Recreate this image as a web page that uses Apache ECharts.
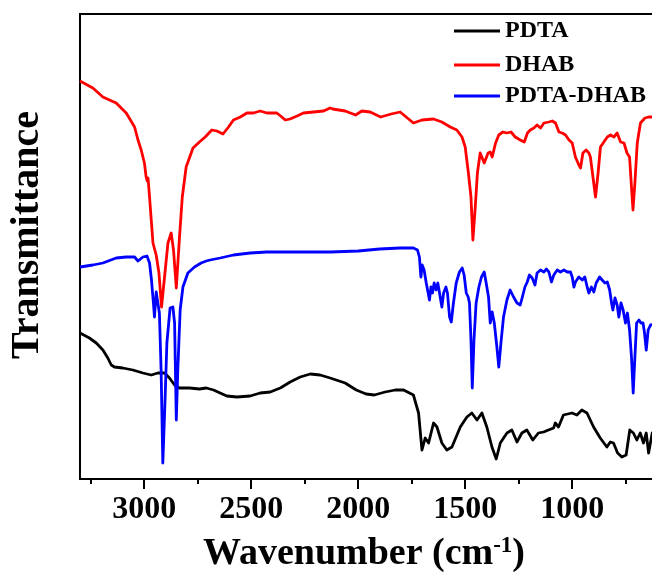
<!DOCTYPE html>
<html>
<head>
<meta charset="utf-8">
<title>FTIR</title>
<script src="https://cdn.jsdelivr.net/npm/echarts@6/dist/echarts.min.js"></script>
<style>
  html, body { margin: 0; padding: 0; background: #fff; }
  #ftir { width: 652px; height: 578px; }
</style>
</head>
<body>
<div id="ftir"></div>
<script>
// spectra: [wavenumber cm-1, transmittance (a.u., offset)]
const PDTA = [
  [3300,146],[3256,141],[3224,136],[3193,129],[3170,121],[3154,114],[3139,112],[3100,111],
  [3053,109],[3006,106],[2967,104],[2936,106],[2905,106],[2882,101],[2858,94],[2835,91],
  [2788,91],[2742,90],[2710,91],[2676,89],[2645,86],[2614,83],[2567,82],[2505,83],
  [2458,86],[2411,87],[2364,91],[2318,97],[2271,102],[2224,105],[2178,104],[2131,101],
  [2061,96],[2009,89],[1963,85],[1925,84],[1874,87],[1827,89],[1788,89],[1742,84],
  [1718,66],[1702,29],[1687,41],[1671,36],[1648,56],[1632,52],[1609,36],[1586,29],
  [1562,32],[1523,52],[1492,62],[1469,66],[1445,59],[1422,66],[1399,52],[1375,32],
  [1355,20],[1336,36],[1305,46],[1282,49],[1258,37],[1235,46],[1212,49],[1184,39],
  [1158,46],[1134,47],[1111,49],[1087,51],[1079,56],[1064,52],[1041,64],[1001,66],
  [978,64],[955,69],[931,66],[900,52],[869,41],[838,32],[822,37],[807,36],[788,26],
  [768,22],[748,24],[731,49],[714,46],[698,39],[682,46],[667,36],[654,46],[643,26],
  [626,46],[550,42],[450,42]
];

const DHAB = [
  [3300,398],[3240,391],[3193,382],[3131,376],[3084,366],[3045,352],[3029,339],[3014,329],
  [2999,316],[2991,302],[2986,298],[2982,301],[2975,282],[2967,259],[2959,236],[2944,224],
  [2931,206],[2919,172],[2905,202],[2889,236],[2874,246],[2863,229],[2850,191],[2835,242],
  [2822,282],[2804,312],[2772,331],[2742,337],[2715,342],[2684,349],[2660,348],[2632,345],
  [2606,352],[2583,359],[2551,362],[2520,366],[2489,366],[2458,368],[2427,366],[2380,366],
  [2357,362],[2341,359],[2318,360],[2286,363],[2256,366],[2209,367],[2162,368],[2131,371],
  [2119,370],[2061,368],[2012,364],[1983,368],[1944,367],[1895,362],[1846,365],[1804,367],
  [1742,356],[1702,359],[1648,360],[1609,357],[1570,352],[1539,349],[1515,342],[1500,332],
  [1485,306],[1473,282],[1464,239],[1453,272],[1443,306],[1430,326],[1421,328],[1411,316],
  [1402,317],[1393,326],[1383,327],[1374,322],[1358,336],[1343,344],[1324,347],[1305,346],
  [1286,347],[1266,342],[1243,339],[1224,337],[1209,346],[1196,349],[1179,351],[1164,354],
  [1148,351],[1132,356],[1109,357],[1093,358],[1078,356],[1062,347],[1047,346],[1031,344],
  [1015,339],[1000,336],[985,322],[969,314],[961,311],[950,326],[935,329],[922,326],
  [915,322],[903,302],[891,282],[879,306],[868,332],[852,337],[836,342],[821,344],
  [805,342],[790,346],[774,337],[758,336],[744,326],[732,322],[723,292],[716,269],
  [707,296],[696,336],[681,356],[660,361],[642,362],[626,362],[550,363],[450,363]
];

const PDTA_DHAB = [
  [3300,212],[3240,214],[3193,216],[3131,221],[3084,222],[3045,222],[3029,218],[3006,222],
  [2987,223],[2975,216],[2966,199],[2957,176],[2952,162],[2944,187],[2938,186],[2929,166],
  [2921,109],[2913,16],[2903,76],[2894,136],[2879,171],[2866,172],[2858,156],[2850,59],
  [2843,109],[2832,169],[2819,192],[2796,206],[2765,212],[2734,216],[2710,218],[2692,219],
  [2645,221],[2583,224],[2505,226],[2427,227],[2333,227],[2240,227],[2131,227],[2000,228],
  [1900,230],[1804,231],[1742,231],[1723,229],[1714,222],[1707,202],[1701,214],[1692,209],
  [1682,196],[1673,197],[1667,179],[1660,192],[1653,186],[1645,196],[1636,189],[1628,196],
  [1620,186],[1609,172],[1601,186],[1590,192],[1583,186],[1573,162],[1565,157],[1555,176],
  [1542,196],[1527,207],[1514,211],[1505,204],[1495,186],[1486,182],[1480,176],[1473,139],
  [1467,91],[1459,139],[1449,176],[1436,192],[1424,202],[1411,207],[1402,196],[1391,182],
  [1383,156],[1374,167],[1364,156],[1352,132],[1343,112],[1333,136],[1321,162],[1305,179],
  [1290,189],[1274,182],[1258,176],[1243,174],[1234,181],[1221,192],[1210,197],[1200,204],
  [1187,201],[1174,194],[1164,206],[1148,209],[1132,207],[1121,210],[1109,207],[1097,197],
  [1086,204],[1070,209],[1055,207],[1039,209],[1023,207],[1008,207],[1000,202],[992,192],
  [985,197],[969,202],[953,199],[941,202],[930,192],[922,186],[910,192],[899,187],
  [888,196],[872,202],[860,199],[847,196],[836,197],[825,189],[816,176],[810,169],
  [800,181],[790,174],[782,162],[772,176],[762,169],[751,156],[742,166],[732,149],
  [723,122],[715,86],[707,122],[699,156],[688,159],[679,156],[669,156],[662,146],
  [654,129],[645,149],[634,154],[626,156],[550,157],[450,157]
];

const SERIES_NAMES = ['PDTA', 'DHAB', 'PDTA-DHAB'];
const SERIES_COLORS = ['#000000', '#ff0000', '#0000ff'];
const MAJOR_TICKS = [1000, 1500, 2000, 2500, 3000];
const MINOR_TICKS = [750, 1250, 1750, 2250, 2750, 3250];

(function () {
  const FONT = 'Liberation Serif';
  const chart = echarts.init(document.getElementById('ftir'), null, { renderer: 'canvas' });

  // one legend block per entry, spacing in the figure is uneven
  const legendTops = [19, 53, 84];
  const legends = SERIES_NAMES.map((name, i) => ({
    data: [name],
    left: 454,
    top: legendTops[i],
    padding: 0,
    icon: 'rect',
    itemWidth: 46,
    itemHeight: 3,
    itemGap: 0,
    textStyle: { fontFamily: FONT, fontWeight: 'bold', fontSize: 24, color: '#000' }
  }));

  const makeSeries = (name, data, color) => ({
    type: 'line',
    name,
    data,
    xAxisIndex: 0,
    showSymbol: false,
    symbol: 'none',
    animation: false,
    lineStyle: { color, width: 2.8, join: 'round' },
    itemStyle: { color }
  });

  const option = {
    backgroundColor: '#fff',
    animation: false,
    legend: legends,
    // plot box runs past the right edge of the picture (spectrum goes to 400 cm-1)
    grid: {
      left: 80, top: 14, width: 620.6, height: 465,
      outerBoundsMode: 'none', containLabel: false,
      show: true, borderColor: '#000', borderWidth: 2, backgroundColor: 'transparent'
    },
    xAxis: [
      {
        type: 'value', inverse: true, min: 400, max: 3300,
        axisLine: { show: true, lineStyle: { color: '#000', width: 2 } },
        axisTick: { show: true, customValues: MAJOR_TICKS, length: 10, lineStyle: { color: '#000', width: 2 } },
        axisLabel: {
          customValues: MAJOR_TICKS, margin: 15,
          formatter: v => String(v),
          fontFamily: FONT, fontWeight: 'bold', fontSize: 32, color: '#000'
        },
        splitLine: { show: false }
      },
      {
        type: 'value', inverse: true, min: 400, max: 3300, position: 'bottom',
        axisLine: { show: false },
        axisTick: { show: true, customValues: MINOR_TICKS, length: 5, lineStyle: { color: '#000', width: 2 } },
        axisLabel: { show: false },
        splitLine: { show: false }
      }
    ],
    yAxis: {
      type: 'value', min: 0, max: 465,
      axisLine: { show: false }, axisTick: { show: false },
      axisLabel: { show: false }, splitLine: { show: false }
    },
    graphic: [
      {
        type: 'text', x: 28, y: 235, rotation: Math.PI / 2,
        style: {
          text: 'Transmittance', fill: '#000',
          font: 'bold 40px "' + FONT + '"',
          textAlign: 'center', textVerticalAlign: 'middle'
        }
      },
      {
        type: 'text', x: 364, y: 554,
        style: {
          text: '{a|Wavenumber (cm}{s|-1}{a|)}',
          textAlign: 'center', textVerticalAlign: 'middle',
          rich: {
            a: { fontFamily: FONT, fontWeight: 'bold', fontSize: 38, fill: '#000', color: '#000' },
            s: { fontFamily: FONT, fontWeight: 'bold', fontSize: 23, fill: '#000', color: '#000', verticalAlign: 'top' }
          }
        }
      }
    ],
    series: [
      makeSeries(SERIES_NAMES[0], PDTA, SERIES_COLORS[0]),
      makeSeries(SERIES_NAMES[1], DHAB, SERIES_COLORS[1]),
      makeSeries(SERIES_NAMES[2], PDTA_DHAB, SERIES_COLORS[2])
    ]
  };

  chart.setOption(option);
})();
</script>
</body>
</html>
